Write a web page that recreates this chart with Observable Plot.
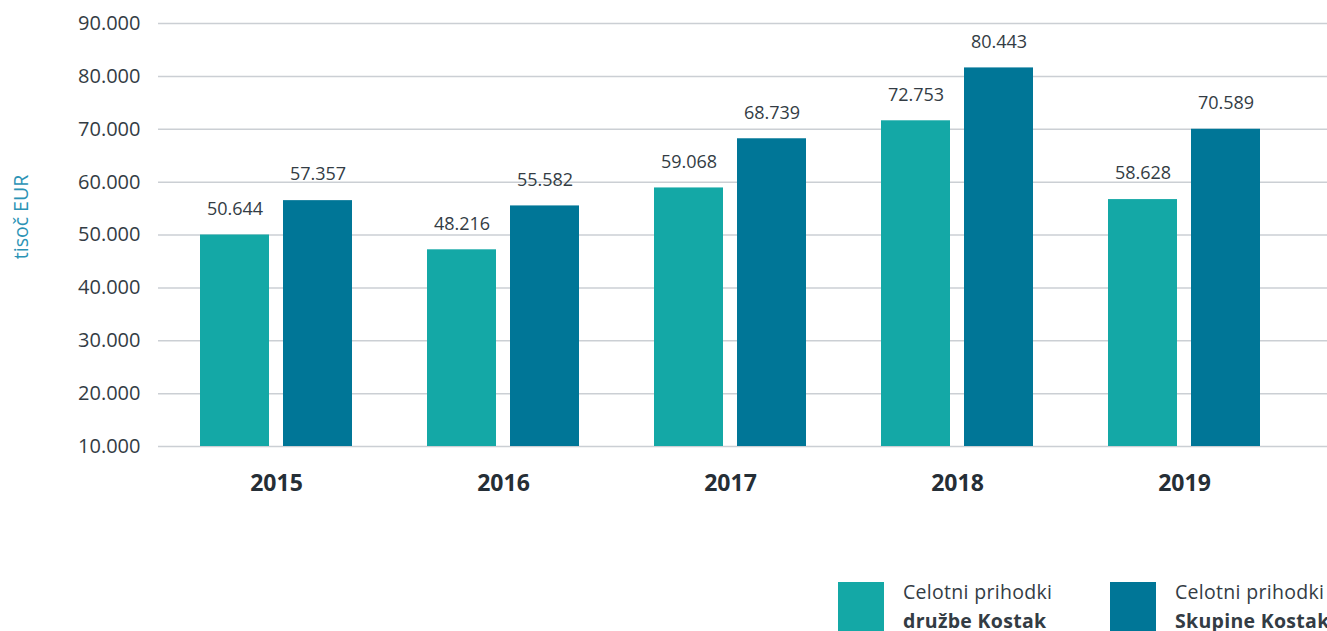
<!DOCTYPE html>
<html>
<head>
<meta charset="utf-8">
<script src="https://cdn.jsdelivr.net/npm/d3@7"></script>
<script src="https://cdn.jsdelivr.net/npm/@observablehq/plot@0.6"></script>
<style>
  html, body { margin: 0; padding: 0; background: #fff; overflow: hidden; width: 1327px; height: 631px; }
  body { font-family: "Open Sans", sans-serif; color: #333c44; }
  #legend { display: flex; margin-top: 57px; padding-left: 838px; white-space: nowrap; }
  .item { display: flex; align-items: flex-start; width: 272px; flex: none; }
  .sw { width: 46px; height: 50px; margin-top: 5px; flex: none; }
  .txt { margin-left: 19px; font-size: 19.5px; line-height: 29px; font-weight: 400; letter-spacing: 0.3px; color: #333c44; }
  .txt b { font-weight: 700; }
</style>
</head>
<body>
<div id="chart"></div>
<div id="legend"></div>
<script>
// ---- data ----
const years = ["2015", "2016", "2017", "2018", "2019"];
const seriesNames = ["Celotni prihodki družbe Kostak", "Celotni prihodki Skupine Kostak"];
// values printed on the labels (tisoč EUR)
const druzbeLabels  = [50644, 48216, 59068, 72753, 58628];
const skupineLabels = [57357, 55582, 68739, 80443, 70589];
// bar heights as drawn in the picture (tisoč EUR)
const druzbeBars  = [50000, 47200, 58900, 71600, 56700];
const skupineBars = [56500, 55500, 68200, 81600, 70000];
const yTicks = [10000, 20000, 30000, 40000, 50000, 60000, 70000, 80000, 90000];
const colors = ["#14a8a6", "#007697"];

const yMin = yTicks[0], yMax = yTicks[yTicks.length - 1];
const fmt = d3.formatLocale({thousands: ".", decimal: ",", grouping: [3], currency: ["", ""]}).format(",");

const druzbe = years.map((y, i) => ({year: y, bar: druzbeBars[i], label: druzbeLabels[i]}));
const skupine = years.map((y, i) => ({year: y, bar: skupineBars[i], label: skupineLabels[i]}));

const font = "'Open Sans', sans-serif";
const textColor = "#333c44";

const chart = Plot.plot({
  width: 1327,
  height: 520,
  marginLeft: 158,
  marginRight: 0,
  marginTop: 23,
  marginBottom: 74,
  style: {fontFamily: font, color: textColor, background: "#fff"},
  x: {type: "band", domain: years, insetLeft: 4.5, insetRight: 29.5, paddingInner: 0.33, paddingOuter: 0.165},
  y: {domain: [yMin, yMax]},
  marks: [
    Plot.ruleY(yTicks, {stroke: "#cbcfd4", strokeWidth: 1.5}),
    Plot.barY(druzbe, {x: "year", y1: d => yMin, y2: "bar", fill: colors[0], insetRight: 83}),
    Plot.barY(skupine, {x: "year", y1: d => yMin, y2: "bar", fill: colors[1], insetLeft: 83}),
    Plot.text(druzbe, {x: "year", y: "bar", text: d => fmt(d.label), dx: -41.5, dy: -26, fontSize: 18, fill: textColor}),
    Plot.text(skupine, {x: "year", y: "bar", text: d => fmt(d.label), dx: 41.5, dy: -26, fontSize: 18, fill: textColor}),
    Plot.axisY({ticks: yTicks, tickSize: 0, tickPadding: 18, tickFormat: fmt, fontSize: 20, fill: textColor, label: null}),
    Plot.axisX({tickSize: 0, tickPadding: 28, fontSize: 23, fontWeight: 700, fill: "#252e36", label: null}),
    Plot.text(["tisoč EUR"], {frameAnchor: "left", textAnchor: "middle", dx: -137, dy: -18, rotate: -90, fontSize: 19.5, fill: "#2b93b5"})
  ]
});
document.getElementById("chart").appendChild(chart);

// ---- legend ----
const legendLines = [["Celotni prihodki", "družbe Kostak"], ["Celotni prihodki", "Skupine Kostak"]];
const legend = document.getElementById("legend");
legendLines.forEach((lines, i) => {
  const item = document.createElement("div");
  item.className = "item";
  const sw = document.createElement("div");
  sw.className = "sw";
  sw.style.background = colors[i];
  const t = document.createElement("div");
  t.className = "txt";
  t.innerHTML = lines[0] + "<br><b>" + lines[1] + "</b>";
  t.title = seriesNames[i];
  item.appendChild(sw);
  item.appendChild(t);
  legend.appendChild(item);
});
</script>
</body>
</html>
